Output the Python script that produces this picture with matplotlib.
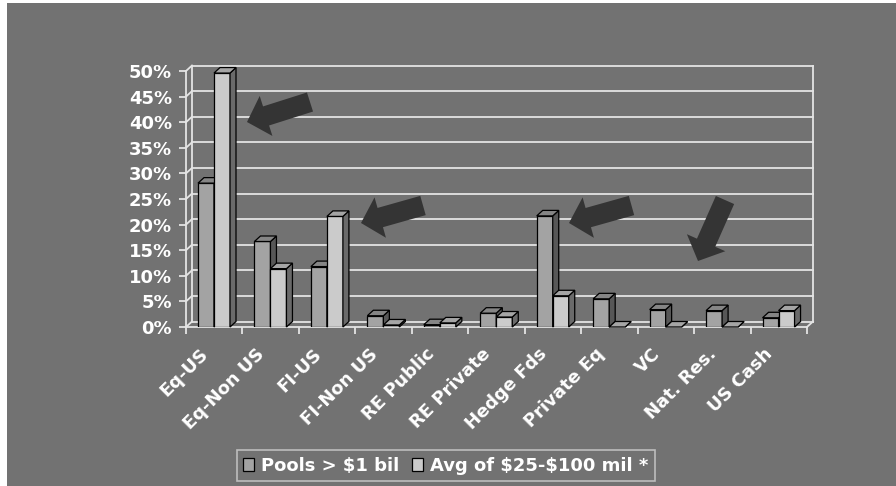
import matplotlib
matplotlib.use('Agg')
import matplotlib.pyplot as plt
from matplotlib.patches import Polygon, Rectangle, FancyArrow, Patch
from matplotlib.transforms import offset_copy
import numpy as np

categories = ['Eq-US', 'Eq-Non US', 'FI-US', 'FI-Non US', 'RE Public', 'RE Private',
              'Hedge Fds', 'Private Eq', 'VC', 'Nat. Res.', 'US Cash']
pools_big = [28.1, 16.7, 11.8, 2.2, 0.45, 2.7, 21.7, 5.5, 3.4, 3.2, 1.8]
avg_small = [49.6, 11.4, 21.6, 0.4, 0.8, 1.95, 6.1, 0.0, 0.0, 0.0, 3.2]
series_names = [r'Pools > \$1 bil', r'Avg of \$25-\$100 mil *']
yticks = list(range(0, 51, 5))

W, H = 896, 486
bg = '#727272'
line_c = '#E4E4E4'
front_c = ['#A3A3A3', '#CBCBCB']
side_c = ['#575757', '#6A6A6A']
top_c = ['#858585', '#A5A5A5']

plt.rcParams['font.family'] = 'DejaVu Sans'
plt.rcParams['font.weight'] = 'bold'

fig = plt.figure(figsize=(W / 100, H / 100), dpi=100)
fig.patch.set_facecolor('white')
fig.add_artist(Rectangle((7 / W, 0), 1 - 7 / W, 1 - 3 / H, transform=fig.transFigure,
                         facecolor=bg, edgecolor='none', zorder=-1))

# front plane of the 3-D box, in pixels
px0, px1, py0, py1 = 186, 807, 327, 71
ax = fig.add_axes([px0 / W, 1 - py0 / H, (px1 - px0) / W, (py0 - py1) / H])
ax.set_facecolor('none')
n = len(categories)
ax.set_xlim(0, n)
ax.set_ylim(0, 50)
for s in ax.spines.values():
    s.set_visible(False)

# depth offset (pixels -> data units)
dx = 6 * n / (px1 - px0)
dy = 5.5 * 50 / (py0 - py1)

kw = dict(color=line_c, lw=1.3, clip_on=False, zorder=1)
for v in yticks:
    ax.plot([dx, n + dx], [v + dy, v + dy], **kw)
    ax.plot([0, dx], [v, v + dy], **kw)
ax.plot([0, 0], [0, 50], **kw)
ax.plot([dx, dx], [dy, 50 + dy], **kw)
ax.plot([n + dx, n + dx], [dy, 50 + dy], **kw)
ax.plot([0, n], [0, 0], **kw)
ax.plot([n, n + dx], [0, dy], **kw)

# 3-D columns
bw = 16 * n / (px1 - px0)
off = 12 * n / (px1 - px0)
for k, vals in enumerate([pools_big, avg_small]):
    lefts = np.arange(n) + off + k * bw
    ax.bar(lefts, vals, width=bw, align='edge', color=front_c[k],
           edgecolor='black', linewidth=0.9, zorder=3 + k)
    for xl, h in zip(lefts, vals):
        xr = xl + bw
        ax.add_patch(Polygon([(xr, 0), (xr + dx, dy), (xr + dx, h + dy), (xr, h)],
                             closed=True, fc=side_c[k], ec='black', lw=0.9,
                             zorder=3 + k, clip_on=False))
        ax.add_patch(Polygon([(xl, h), (xl + dx, h + dy), (xr + dx, h + dy), (xr, h)],
                             closed=True, fc=top_c[k], ec='black', lw=0.9,
                             zorder=3 + k, clip_on=False))

ax.set_yticks(yticks)
ax.set_yticklabels([f'{v}%' for v in yticks])
ax.set_xticks(range(n + 1))
ax.set_xticklabels([])
ax.tick_params(axis='y', length=5, width=1.3, color=line_c, pad=5,
               labelsize=13, labelcolor='white')
ax.tick_params(axis='x', length=5, width=1.3, color=line_c)

lab_tr = offset_copy(ax.transData, fig=fig, x=-15, y=-18, units='dots')
for i, name in enumerate(categories):
    ax.text(i + 0.5, 0, name, transform=lab_tr, rotation=45, rotation_mode='anchor',
            ha='right', va='top', color='white', fontsize=13, fontweight='bold')

handles = [Patch(fc=front_c[k], ec='black', lw=0.9) for k in range(2)]
leg = fig.legend(handles, series_names, loc='center',
                 bbox_to_anchor=(446 / W, 1 - 465.5 / H), ncol=2, fontsize=13,
                 handlelength=0.6, handleheight=0.7, handletextpad=0.4,
                 columnspacing=0.7, borderpad=0.35, borderaxespad=0, fancybox=False)
leg.get_frame().set_facecolor('none')
leg.get_frame().set_edgecolor('#D0D0D0')
leg.get_frame().set_linewidth(1.2)
for t in leg.get_texts():
    t.set_color('white')

# block arrows drawn in pixel space
over = fig.add_axes([0, 0, 1, 1])
over.set_xlim(0, W)
over.set_ylim(H, 0)
over.axis('off')
over.set_zorder(10)
arrows = [((310, 102), (247, 122)), ((423, 205.5), (361, 223)),
          ((631.5, 205.5), (569, 223)), ((725, 200), (698, 261))]
for (tx, ty), (hx, hy) in arrows:
    over.add_patch(FancyArrow(tx, ty, hx - tx, hy - ty, width=20, head_width=42,
                              head_length=20, length_includes_head=True,
                              fc='#343434', ec='none'))

fig.savefig('out.png', dpi=100)
